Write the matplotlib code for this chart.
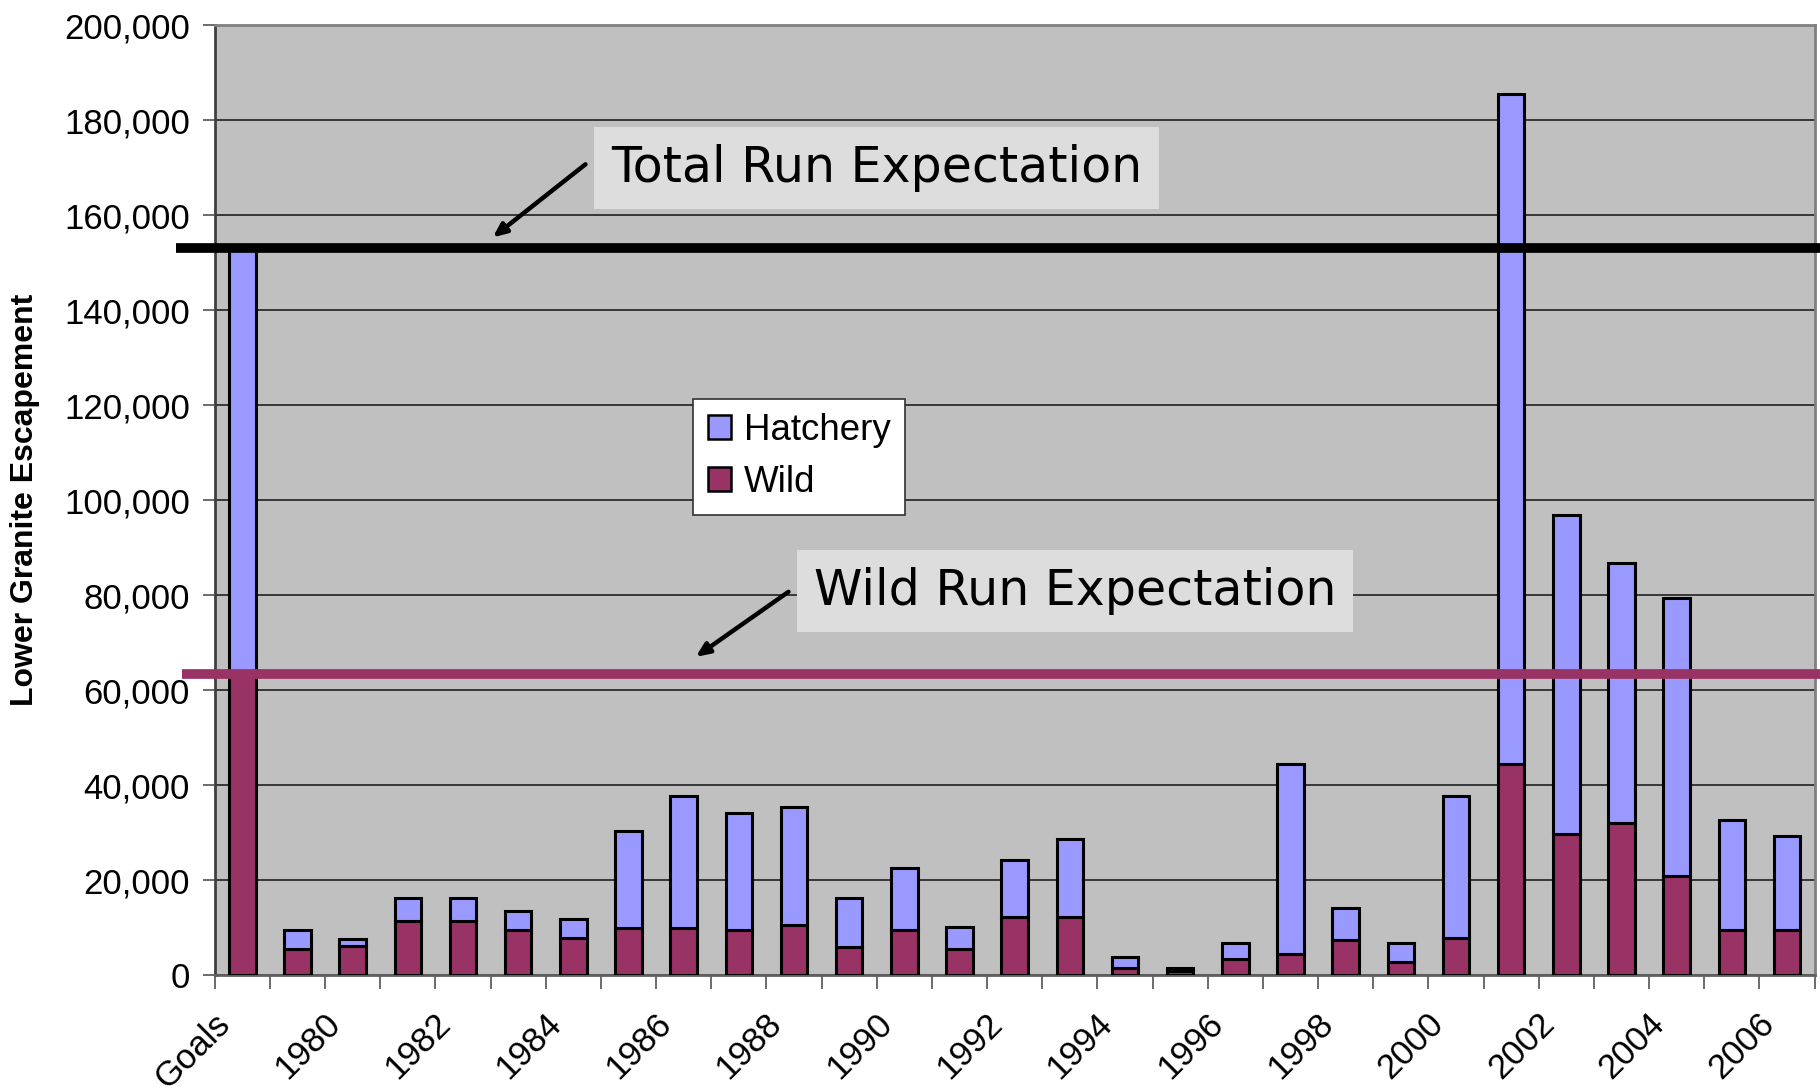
import numpy as np
import matplotlib.pyplot as plt
import matplotlib.transforms as mtransforms
from matplotlib.patches import Patch
from matplotlib.ticker import FuncFormatter

# categories (first one is the goal bar)
categories = ['Goals'] + [str(y) for y in range(1979, 2007)]

wild = [63300, 5600, 6100, 11300, 11300, 9500, 7900, 9900, 9900, 9500,
        10600, 6000, 9500, 5600, 12300, 12300, 1600, 800, 3300, 4500,
        7300, 2800, 7900, 44500, 29800, 32100, 20800, 9500, 9500]
total = [153000, 9500, 7700, 16300, 16300, 13500, 11800, 30400, 37700, 34200,
         35400, 16300, 22600, 10100, 24200, 28600, 3900, 1600, 6800, 44400,
         14100, 6800, 37700, 185500, 96800, 86700, 79400, 32600, 29200]
hatchery = [t - w for t, w in zip(total, wild)]

total_expectation = 153000
wild_expectation = 63300

hatch_color = '#9999FF'
wild_color = '#993366'

plt.rcParams['font.family'] = ['Liberation Sans', 'DejaVu Sans']

fig = plt.figure(figsize=(18.2, 10.92), dpi=100)
ax = fig.add_axes([0.118, 0.107, 0.879, 0.870])
ax.set_facecolor('#C0C0C0')

x = np.arange(len(categories))
ax.bar(x, wild, width=0.48, color=wild_color, edgecolor='black', linewidth=2.2, zorder=3)
ax.bar(x, hatchery, width=0.48, bottom=wild, color=hatch_color, edgecolor='black',
       linewidth=2.2, zorder=3)

ax.set_xlim(-0.5, len(categories) - 0.5)
ax.set_ylim(0, 200000)
ax.set_yticks(np.arange(0, 200001, 20000))
ax.yaxis.set_major_formatter(FuncFormatter(lambda v, p: f'{int(v):,}'))
ax.grid(axis='y', color='#202020', linewidth=1.2, zorder=1)
ax.set_axisbelow(True)

# tick marks at category boundaries; rotated labels on every other category
ax.set_xticks(np.arange(-0.5, len(categories)))
ax.set_xticklabels([])
ax.tick_params(axis='x', length=10, width=1.3, color='#606060')
shift = mtransforms.ScaledTranslation(-0.29, -0.32, fig.dpi_scale_trans)
for i, c in enumerate(categories):
    if i % 2 == 0:
        ax.text(i, 0, c, transform=ax.get_xaxis_transform() + shift, fontsize=25,
                rotation=45, ha='right', va='top', rotation_mode='anchor')
ax.tick_params(axis='y', length=9, width=1.3, color='#606060', labelsize=25, pad=9)

for s in ax.spines.values():
    s.set_color('#808080')
    s.set_linewidth(2)
ax.spines['left'].set_color('#404040')
ax.spines['bottom'].set_color('#606060')

ax.set_ylabel('Lower Granite Escapement', fontsize=23, fontweight='bold')
ax.yaxis.set_label_coords(-0.109, 0.5)

# expectation lines, running a little past the axes on both sides
x0, x1 = -1.2, len(categories)
ax.plot([x0, x1], [total_expectation] * 2, color='black', linewidth=7,
        clip_on=False, zorder=4, solid_capstyle='butt')
ax.plot([x0 + 0.1, x1], [wild_expectation] * 2, color=wild_color, linewidth=7,
        clip_on=False, zorder=4, solid_capstyle='butt')

box = dict(boxstyle='square,pad=0.34', facecolor='#DDDDDD', edgecolor='none')
arrow = dict(arrowstyle='-|>,head_length=0.8,head_width=0.35', color='black',
             lw=3.2, shrinkA=0, shrinkB=0)
ax.text(6.68, 169900, 'Total Run Expectation', fontsize=35.3, family='DejaVu Sans',
        va='center', ha='left', bbox=box, zorder=5)
ax.annotate('', xy=(4.54, 155300), xytext=(6.22, 170700), arrowprops=arrow, zorder=5)
ax.text(10.36, 80900, 'Wild Run Expectation', fontsize=35.3, family='DejaVu Sans',
        va='center', ha='left', bbox=box, zorder=5)
ax.annotate('', xy=(8.22, 67000), xytext=(9.90, 80700), arrowprops=arrow, zorder=5)

handles = [Patch(facecolor=hatch_color, edgecolor='black', linewidth=1.8, label='Hatchery'),
           Patch(facecolor=wild_color, edgecolor='black', linewidth=1.8, label='Wild')]
leg = ax.legend(handles=handles, loc='upper left', bbox_to_anchor=(0.381, 0.635),
                bbox_transform=fig.transFigure, fontsize=26.5, frameon=True,
                fancybox=False, framealpha=1, facecolor='white', edgecolor='#303030',
                handlelength=0.62, handleheight=0.62, handletextpad=0.35,
                borderpad=0.4, borderaxespad=0, labelspacing=0.45)
leg.get_frame().set_linewidth(1.2)
leg.set_zorder(6)

fig.savefig('out.png', dpi=100, facecolor='white')
